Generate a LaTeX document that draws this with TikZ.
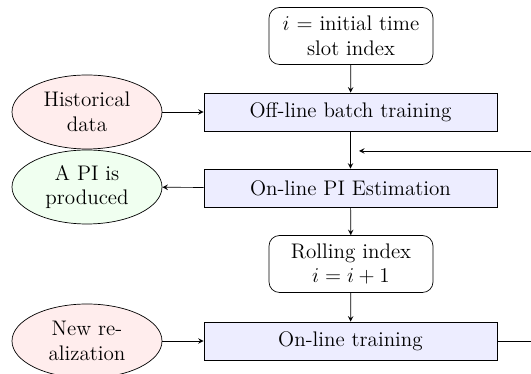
\documentclass[tikz,border=0pt]{standalone}
\usepackage{amsmath}
\usepackage{tikz}
\usetikzlibrary{shapes.geometric}

\begin{document}
\begin{tikzpicture}[font=\large,
  block/.style={draw, fill=blue!7, minimum width=5.86cm, minimum height=0.76cm},
  rblock/.style={draw, rounded corners=6pt, align=center, minimum width=3.28cm, minimum height=1.14cm},
  cloud/.style={draw, ellipse, align=center, minimum width=3cm, minimum height=1.48cm, inner sep=1pt},
  line/.style={draw, -stealth}]
\useasboundingbox (0, 0) rectangle (10.62, 7.48);
\node[rblock] (init) at (7.02, 6.76) {$i$ = initial time\\slot index};
\node[block] (offline) at (7.01, 5.24) {Off-line batch training};
\node[block] (estim) at (7.01, 3.72) {On-line PI Estimation};
\node[rblock] (roll) at (7.02, 2.2) {Rolling index\\$i=i+1$};
\node[block] (online) at (7.01, 0.66) {On-line training};
\node[cloud, fill=red!7] (hist) at (1.74, 5.24) {Historical\\data};
\node[cloud, fill=green!6] (pi) at (1.74, 3.74) {A PI is\\produced};
\node[cloud, fill=red!7] (new) at (1.74, 0.66) {New re-\\alization};
\coordinate (back) at (7.18, 4.46);
\draw[line] (init) -- (offline);
\draw[line] (offline) -- (estim);
\draw[line] (estim) -- (roll);
\draw[line] (roll) -- (online);
\draw[line] (hist) -- (offline);
\draw[line] (estim) -- (pi);
\draw[line] (new) -- (online);
\draw[line] (online.east) -- (10.9, 0.66) -- (10.9, 4.46) -- (back);
\end{tikzpicture}
\end{document}
